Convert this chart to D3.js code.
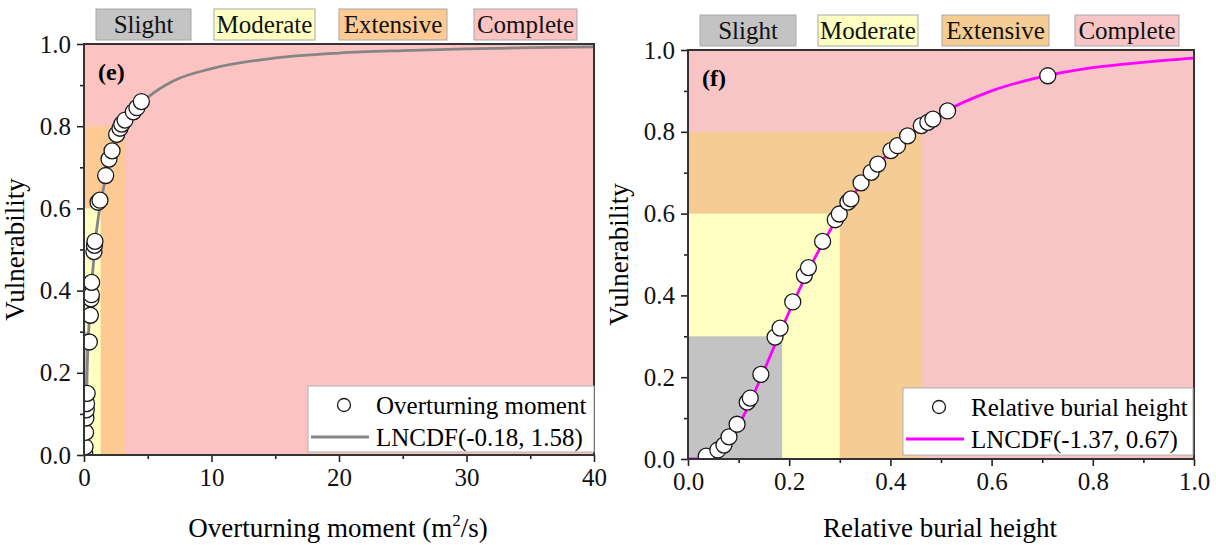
<!DOCTYPE html>
<html>
<head>
<meta charset="utf-8">
<script src="https://cdn.jsdelivr.net/npm/d3@7"></script>
<style>
	body { margin: 0; background: #fff; }
	svg { display: block; font-family: "Liberation Serif", "Times New Roman", serif; }
</style>
</head>
<body>
<svg id="chart" width="1216" height="545"></svg>
<script>
// damage states and the vulnerability level that closes each one
var damageStates = ["Slight", "Moderate", "Extensive", "Complete"];
var stateLevels = [0.3, 0.6, 0.8, 1.0];

// (e) overturning moment
var momentStateEdges = [0.37, 1.3, 3.2, 40];
var momentX = [0.05, 0.08, 0.12, 0.15, 0.18, 0.2, 0.25, 0.42, 0.5, 0.55, 0.58, 0.6, 0.78, 0.82, 0.86, 1.1, 1.25, 1.7, 1.96, 2.2, 2.56, 2.82, 2.96, 3.22, 3.87, 4.15, 4.5];
var momentY = [0.005, 0.02, 0.055, 0.09, 0.11, 0.125, 0.15, 0.275, 0.34, 0.38, 0.39, 0.42, 0.495, 0.51, 0.52, 0.615, 0.62, 0.68, 0.72, 0.74, 0.78, 0.795, 0.805, 0.815, 0.835, 0.845, 0.86];
var momentFitX = [0, 0.01, 0.02, 0.05, 0.1, 0.2, 0.3, 0.5, 0.75, 1, 1.5, 2, 3, 4, 5, 7, 10, 15, 20, 25, 30, 35, 40];
var momentFitY = [0, 0.003, 0.01, 0.04, 0.09, 0.18, 0.26, 0.37, 0.47, 0.55, 0.645, 0.71, 0.79, 0.84, 0.87, 0.91, 0.94, 0.966, 0.978, 0.984, 0.988, 0.991, 0.993];
var momentTicks = [0, 10, 20, 30, 40];

// (f) relative burial height
var burialStateEdges = [0.186, 0.30, 0.463, 1.0];
var burialX = [0.036, 0.059, 0.071, 0.081, 0.097, 0.117, 0.123, 0.144, 0.172, 0.182, 0.207, 0.230, 0.238, 0.266, 0.291, 0.299, 0.316, 0.322, 0.342, 0.362, 0.375, 0.401, 0.414, 0.434, 0.461, 0.474, 0.484, 0.513, 0.711];
var burialY = [0.007, 0.022, 0.034, 0.054, 0.085, 0.139, 0.149, 0.207, 0.298, 0.320, 0.384, 0.449, 0.468, 0.532, 0.585, 0.599, 0.628, 0.636, 0.675, 0.701, 0.721, 0.754, 0.766, 0.790, 0.815, 0.823, 0.831, 0.851, 0.937];
var burialFitX = [0, 0.02, 0.04, 0.06, 0.08, 0.1, 0.12, 0.15, 0.2, 0.25, 0.3, 0.35, 0.4, 0.45, 0.5, 0.6, 0.7, 0.8, 0.9, 1.0];
var burialFitY = [0, 0.0001, 0.003, 0.016, 0.042, 0.082, 0.131, 0.216, 0.36, 0.49, 0.598, 0.684, 0.751, 0.803, 0.844, 0.900, 0.935, 0.957, 0.970, 0.980];
var burialTicks = [0, 0.2, 0.4, 0.6, 0.8, 1.0];

var vulnTicks = [0, 0.2, 0.4, 0.6, 0.8, 1.0];

var vuln = {
	svg: d3.select("#chart"),
	init: function() {
		vuln.draw_panel({
			id: "e", tag: "(e)",
			left: 84, right: 594, top: 44, bottom: 455,
			xmax: 40, xticks: momentTicks, xfmt: d3.format("d"), xminor: 5,
			edges: momentStateEdges,
			px: momentX, py: momentY, fx: momentFitX, fy: momentFitY,
			colors: ["#c4c4c4", "#ffffc2", "#fdca94", "#fcc3c3"],
			line_color: "#858585",
			boxes: [[96, 191], [214, 315], [339, 447], [474, 577]], box_top: 9,
			series: "Overturning moment", fit: "LNCDF(-0.18, 1.58)",
			legend: [308, 386, 594, 452],
			title_x: 338, ytitle_x: 24
		});
		vuln.draw_panel({
			id: "f", tag: "(f)",
			left: 688, right: 1194, top: 50, bottom: 459,
			xmax: 1, xticks: burialTicks, xfmt: d3.format(".1f"), xminor: 0.1,
			edges: burialStateEdges,
			px: burialX, py: burialY, fx: burialFitX, fy: burialFitY,
			colors: ["#c3c3c3", "#fffec3", "#f5cc94", "#f7c5c5"],
			line_color: "#ff00ff",
			boxes: [[700, 796], [818, 918], [942, 1049], [1075, 1179]], box_top: 15,
			series: "Relative burial height", fit: "LNCDF(-1.37, 0.67)",
			legend: [903, 388, 1193, 455],
			title_x: 940, ytitle_x: 628
		});
	},
	draw_panel: function(c) {
		var svg = vuln.svg;
		var x = d3.scaleLinear().domain([0, c.xmax]).range([c.left, c.right]);
		var y = d3.scaleLinear().domain([0, 1]).range([c.bottom, c.top]);
		var g = svg.append("g").attr("class", "panel-" + c.id);

		g.append("clipPath").attr("id", "clip-" + c.id)
			.append("rect")
			.attr("x", c.left).attr("y", c.top)
			.attr("width", c.right - c.left).attr("height", c.bottom - c.top);

		// damage state zones, widest first
		var zones = damageStates.map(function(s, i) {
			return { state: s, edge: c.edges[i], level: stateLevels[i], color: c.colors[i] };
		}).reverse();
		g.selectAll("rect.zone").data(zones).enter().append("rect")
			.attr("class", "zone")
			.attr("x", x(0))
			.attr("y", function(d) { return y(d.level); })
			.attr("width", function(d) { return x(d.edge) - x(0); })
			.attr("height", function(d) { return y(0) - y(d.level); })
			.style("fill", function(d) { return d.color; });

		// state labels above the plot
		damageStates.forEach(function(s, i) {
			var b = c.boxes[i];
			g.append("rect")
				.attr("x", b[0]).attr("y", c.box_top)
				.attr("width", b[1] - b[0]).attr("height", 31)
				.style("fill", c.colors[i]).style("stroke", "#a8a8a8").style("stroke-width", 1);
			g.append("text")
				.attr("x", (b[0] + b[1]) / 2).attr("y", c.box_top + 24)
				.attr("text-anchor", "middle")
				.style("font-size", "25px").style("fill", "#111")
				.text(s);
		});

		// axes
		var xminor = d3.range(c.xminor, c.xmax, c.xminor * 2);
		g.append("g")
			.attr("transform", "translate(0," + c.bottom + ")")
			.call(d3.axisBottom(x).tickValues(xminor).tickSize(4).tickFormat(""))
			.call(vuln.axis_style);
		g.append("g")
			.attr("transform", "translate(0," + c.bottom + ")")
			.call(d3.axisBottom(x).tickValues(c.xticks).tickSize(7).tickPadding(6).tickFormat(c.xfmt))
			.call(vuln.axis_style);
		g.append("g")
			.attr("transform", "translate(" + c.left + ",0)")
			.call(d3.axisLeft(y).tickValues([0.1, 0.3, 0.5, 0.7, 0.9]).tickSize(4).tickFormat(""))
			.call(vuln.axis_style);
		g.append("g")
			.attr("transform", "translate(" + c.left + ",0)")
			.call(d3.axisLeft(y).tickValues(vulnTicks).tickSize(7).tickPadding(6).tickFormat(d3.format(".1f")))
			.call(vuln.axis_style);

		// fitted curve and observations
		var fit = c.fx.map(function(v, i) { return [v, c.fy[i]]; });
		var line = d3.line()
			.x(function(d) { return x(d[0]); })
			.y(function(d) { return y(d[1]); })
			.curve(d3.curveMonotoneX);
		var plot = g.append("g").attr("clip-path", "url(#clip-" + c.id + ")");
		plot.append("path").datum(fit)
			.attr("d", line)
			.style("fill", "none").style("stroke", c.line_color).style("stroke-width", 2.8);
		var pts = c.px.map(function(v, i) { return [v, c.py[i]]; });
		plot.selectAll("circle").data(pts).enter().append("circle")
			.attr("cx", function(d) { return x(d[0]); })
			.attr("cy", function(d) { return y(d[1]); })
			.attr("r", 8)
			.style("fill", "#fff").style("stroke", "#1a1a1a").style("stroke-width", 1.3);

		// frame
		g.append("rect")
			.attr("x", c.left).attr("y", c.top)
			.attr("width", c.right - c.left).attr("height", c.bottom - c.top)
			.style("fill", "none").style("stroke", "#333").style("stroke-width", 2);

		g.append("text")
			.attr("x", c.left + 14).attr("y", c.top + 36)
			.style("font-size", "24px").style("font-weight", "bold")
			.text(c.tag);

		// legend
		var L = c.legend;
		g.append("rect")
			.attr("x", L[0]).attr("y", L[1])
			.attr("width", L[2] - L[0]).attr("height", L[3] - L[1])
			.style("fill", "#fff").style("stroke", "#b0b0b0").style("stroke-width", 1);
		g.append("circle")
			.attr("cx", L[0] + 36).attr("cy", L[1] + 19).attr("r", 6.5)
			.style("fill", "#fff").style("stroke", "#1a1a1a").style("stroke-width", 1.3);
		g.append("text")
			.attr("x", L[0] + 68).attr("y", L[1] + 28)
			.style("font-size", "25px").text(c.series);
		g.append("line")
			.attr("x1", L[0] + 3).attr("x2", L[0] + 61)
			.attr("y1", L[1] + 51).attr("y2", L[1] + 51)
			.style("stroke", c.line_color).style("stroke-width", 2.8);
		g.append("text")
			.attr("x", L[0] + 68).attr("y", L[1] + 60)
			.style("font-size", "25px").text(c.fit);

		// axis titles
		var xt = g.append("text")
			.attr("x", c.title_x).attr("y", 537)
			.attr("text-anchor", "middle")
			.style("font-size", "27px");
		if (c.id === "e") {
			xt.text("Overturning moment (m");
			xt.append("tspan").attr("dy", -11).style("font-size", "17px").text("2");
			xt.append("tspan").attr("dy", 11).text("/s)");
		} else {
			xt.text("Relative burial height");
		}
		g.append("text")
			.attr("transform", "translate(" + c.ytitle_x + "," + ((c.top + c.bottom) / 2) + ") rotate(-90)")
			.attr("text-anchor", "middle")
			.style("font-size", "27px")
			.text("Vulnerability");
	},
	axis_style: function(sel) {
		sel.select(".domain").remove();
		sel.selectAll("line").style("stroke", "#222").style("stroke-width", 1.6);
		sel.selectAll("text")
			.style("font-family", "Liberation Serif, serif")
			.style("font-size", "25px")
			.style("fill", "#111");
	}
};

vuln.init();
</script>
</body>
</html>
